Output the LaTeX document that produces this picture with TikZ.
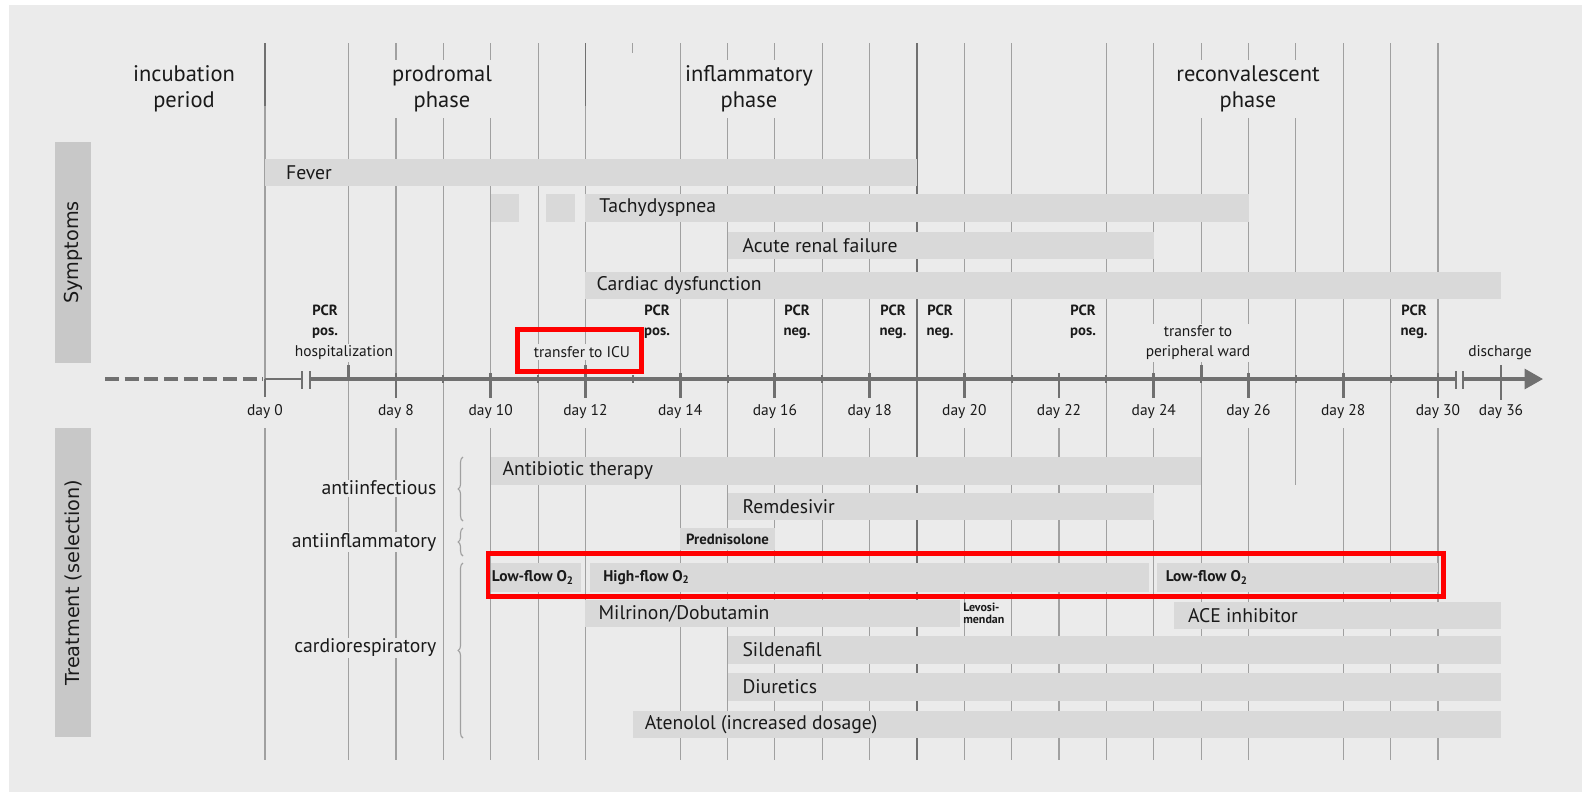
\documentclass[tikz,border=0pt]{standalone}
\usepackage{fontspec}
\setmainfont{PT Sans}
\newfontfamily\sidefont{DejaVu Sans}
\usetikzlibrary{positioning}
\usetikzlibrary{arrows.meta}
\usetikzlibrary{fit}
\usetikzlibrary{decorations.pathreplacing}

\definecolor{bgcol}{HTML}{EBEBEB}
\definecolor{barcol}{HTML}{D9D9D9}
\definecolor{boxcol}{HTML}{C8C8C8}
\definecolor{gridcol}{HTML}{A0A0A0}
\definecolor{axiscol}{HTML}{707070}
\definecolor{textcol}{HTML}{1A1A1A}

\tikzset{
  gridline/.style={draw=gridcol, line width=0.8pt},
  phasegrid/.style={draw=axiscol, line width=1.3pt},
  barbox/.style={rectangle, fill=barcol, draw=none, inner sep=0pt},
  bartext/.style={inner sep=0pt, text=textcol, font=\fontsize{14pt}{16pt}\selectfont},
  smallbartext/.style={inner sep=0pt, text=textcol, font=\bfseries\fontsize{11pt}{13pt}\selectfont},
  phasetext/.style={align=center, fill=bgcol, inner xsep=2pt, inner ysep=4pt, text=textcol, font=\fontsize{16pt}{18.5pt}\selectfont},
  pcrtext/.style={align=center, fill=bgcol, inner sep=1pt, text=textcol, font=\bfseries\fontsize{10.5pt}{14.2pt}\selectfont},
  eventtext/.style={align=center, fill=bgcol, inner sep=1.5pt, text=textcol, font=\fontsize{11pt}{14.2pt}\selectfont},
  daytext/.style={fill=bgcol, minimum height=0.78cm, inner sep=1pt, text=textcol, font=\fontsize{11pt}{13pt}\selectfont},
  grouptext/.style={anchor=east, fill=bgcol, inner sep=1pt, text=textcol, font=\fontsize{14pt}{16pt}\selectfont},
  sidebox/.style={rectangle, fill=boxcol, rotate=90, inner sep=0pt, text=textcol, font=\sidefont\fontsize{13.7pt}{16pt}\selectfont},
  groupbrace/.style={draw=gridcol, line width=0.8pt, decorate, decoration={brace, amplitude=3.5pt}},
  majortick/.style={draw=axiscol, line width=2pt},
  minortick/.style={draw=axiscol, line width=1.4pt},
  axisline/.style={draw=axiscol, line width=2.5pt},
  redframe/.style={rectangle, draw=red, line width=3.5pt, inner sep=0pt},
}

% bar from day #2 to day #3, between rows #4 and #5
\newcommand{\timebar}[5]{\node (#1) [barbox, fit={({dayx(#2)},#4) ({dayx(#3)},#5)}] {};}

\begin{document}
\begin{tikzpicture}[x=0.025cm, y=-0.025cm,
    declare function={dayx(\d)=(\d<1) ? 265 : ((\d>31) ? 1501 : 396+(\d-8)*47.36);}]
    \useasboundingbox (0,0) rectangle (1582,792);
    \fill[white] (0,0) rectangle (1582,792);
    \fill[bgcol] (9,5) rectangle (1582,792);

    % grid
    \foreach \d in {0,7,8,9,10,11,12,14,15,16,17,18,19,20,21,23,24,25,26,28,29,30}
        \draw[gridline] ({dayx(\d)},43) -- ({dayx(\d)},760);
    \draw[gridline] ({dayx(22)},379) -- ({dayx(22)},760);
    \draw[gridline] ({dayx(27)},43) -- ({dayx(27)},485);
    \draw[gridline] ({dayx(13)},43) -- ({dayx(13)},53);
    \draw[phasegrid] ({dayx(0)},43) -- ({dayx(0)},106);
    \draw[phasegrid] ({dayx(12)},43) -- ({dayx(12)},106);
    \draw[phasegrid] ({dayx(19)},43) -- ({dayx(19)},760);

    % phases
    \node (incubation) [phasetext] at (184,89) {incubation\\period};
    \node (prodromal) [phasetext] at (442,89) {prodromal\\phase};
    \node (inflammatory) [phasetext] at (749,89) {inflammatory\\phase};
    \node (reconvalescent) [phasetext] at (1248,89) {reconvalescent\\phase};

    \node (symptoms) [sidebox, minimum width=5.525cm, minimum height=0.9cm] at (73,252.5) {Symptoms};
    \node (treatment) [sidebox, minimum width=7.725cm, minimum height=0.9cm] at (73,582.5) {Treatment (selection)};

    % symptoms
    \timebar{fever}{0}{19}{159}{186}
    \timebar{tachyA}{10}{10.6}{194}{222}
    \timebar{tachyB}{11.17}{11.78}{194}{222}
    \timebar{tachy}{12}{26}{194}{222}
    \timebar{renal}{15}{24}{232}{259}
    \timebar{cardiac}{12}{36}{272}{299}
    \node (fever-label) [bartext, right=0.53cm of fever.west] {Fever};
    \node (tachy-label) [bartext, right=0.35cm of tachy.west] {Tachydyspnea};
    \node (renal-label) [bartext, right=0.375cm of renal.west] {Acute renal failure};
    \node (cardiac-label) [bartext, right=0.28cm of cardiac.west] {Cardiac dysfunction};

    % treatment
    \timebar{antibiotic}{10}{25}{457}{485}
    \timebar{remdesivir}{15}{24}{493}{520}
    \timebar{pred}{14}{16}{528}{550}
    \timebar{lowflowA}{10}{11.9}{563}{592}
    \timebar{highflow}{12.1}{23.9}{563}{592}
    \timebar{lowflowB}{24.06}{30}{563}{592}
    \timebar{milrinon}{12}{19.9}{600}{627}
    \timebar{ace}{24.43}{36}{602}{629}
    \timebar{sildenafil}{15}{36}{636}{664}
    \timebar{diuretics}{15}{36}{673}{701}
    \timebar{atenolol}{13}{36}{711}{738}
    \node (antibiotic-label) [bartext, right=0.3cm of antibiotic.west] {Antibiotic therapy};
    \node (remdesivir-label) [bartext, right=0.375cm of remdesivir.west] {Remdesivir};
    \node (pred-label) [smallbartext, font=\bfseries\fontsize{10.5pt}{12pt}\selectfont] at (pred.center) {Prednisolone};
    \node (lowflowA-label) [smallbartext, right=0.03cm of lowflowA.west] {Low-flow O\textsubscript{2}};
    \node (highflow-label) [smallbartext, right=0.33cm of highflow.west] {High-flow O\textsubscript{2}};
    \node (lowflowB-label) [smallbartext, right=0.23cm of lowflowB.west] {Low-flow O\textsubscript{2}};
    \node (milrinon-label) [bartext, right=0.33cm of milrinon.west] {Milrinon/Dobutamin};
    \node (levo) [smallbartext, fill=bgcol, align=left, anchor=west, font=\bfseries\fontsize{8.5pt}{8.5pt}\selectfont] at (963,613) {Levosi-\\mendan};
    \node (ace-label) [bartext, right=0.35cm of ace.west] {ACE inhibitor};
    \node (sildenafil-label) [bartext, right=0.375cm of sildenafil.west] {Sildenafil};
    \node (diuretics-label) [bartext, right=0.375cm of diuretics.west] {Diuretics};
    \node (atenolol-label) [bartext, right=0.3cm of atenolol.west] {Atenolol (increased dosage)};

    % groups
    \node (antiinf) [grouptext] at (438,488) {antiinfectious};
    \node (antiinfl) [grouptext] at (438,542) {antiinflammatory};
    \node (cardio) [grouptext] at (438,648) {cardiorespiratory};
    \draw[groupbrace] (463,521) -- (463,457);
    \draw[groupbrace] (463,556) -- (463,528);
    \draw[groupbrace] (463,738) -- (463,563);

    % events
    \node (pcr1) [pcrtext] at (325,322) {PCR\\pos.};
    \node (pcr2) [pcrtext] at (657,322) {PCR\\pos.};
    \node (pcr3) [pcrtext] at (797,322) {PCR\\neg.};
    \node (pcr4) [pcrtext] at (893,322) {PCR\\neg.};
    \node (pcr5) [pcrtext] at (940,322) {PCR\\neg.};
    \node (pcr6) [pcrtext] at (1083,322) {PCR\\pos.};
    \node (pcr7) [pcrtext] at (1414,322) {PCR\\neg.};
    \node (hospital) [eventtext] at (344,353) {hospitalization};
    \node (icu) [eventtext] at (582,352) {transfer to ICU};
    \node (ward) [eventtext] at (1198,343) {transfer to\\peripheral ward};
    \node (discharge) [eventtext] at (1500,353) {discharge};

    \foreach \d in {0,8,10,...,30,36}
        \node (day\d) [daytext] at ({dayx(\d)},412) {day \d};

    % axis
    \coordinate (axisfar) at (105,379);
    \coordinate (axiszero) at (263,379);
    \coordinate (axisend) at (1543,379);
    \draw[axisline, line width=3pt, dash pattern=on 10 off 4] (axisfar) -- (axiszero);
    \draw[axisline, line width=1.4pt] (265,379) -- (302,379);
    \draw[axisline] (310,379) -- (1456,379);
    \draw[axisline, -{Triangle[length=13pt, width=14pt]}] (1463,379) -- (axisend);
    \foreach \bx in {302,310,1456,1463}
        \draw[axisline, line width=1.8pt] (\bx,371) -- (\bx,389);
    \draw[majortick] ({dayx(0)},379) -- ({dayx(0)},397);
    \foreach \d in {8,10,...,30}
        \draw[majortick] ({dayx(\d)},373) -- ({dayx(\d)},398);
    \foreach \d in {9,11,...,29}
        \draw[minortick] ({dayx(\d)},375) -- ({dayx(\d)},383);
    \foreach \d in {7,12,25}
        \draw[majortick] ({dayx(\d)},365) -- ({dayx(\d)},379);
    \draw[majortick] ({dayx(36)},365) -- ({dayx(36)},400);

    % highlights
    \node (icuframe) [redframe, fit={(517.5,329.5) (641.5,371.5)}] {};
    \node (o2frame) [redframe, fit={(488,553.5) (1443.5,596.5)}] {};
\end{tikzpicture}
\end{document}
